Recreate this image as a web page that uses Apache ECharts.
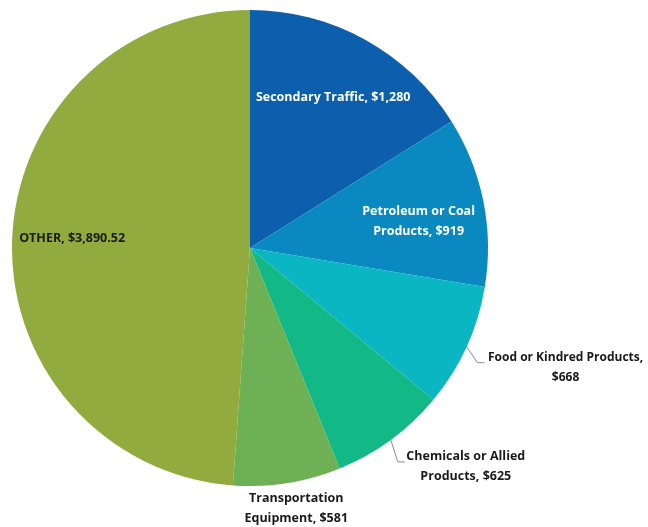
<!DOCTYPE html>
<html>
<head>
<meta charset="utf-8">
<script src="https://cdn.jsdelivr.net/npm/echarts@6/dist/echarts.min.js"></script>
<style>
  html, body { margin: 0; padding: 0; background: #ffffff; }
  #chart { width: 648px; height: 527px; }
</style>
</head>
<body>
<div id="chart"></div>
<script>
// Freight revenue by commodity group
const categories = [
  'Secondary Traffic',
  'Petroleum or Coal Products',
  'Food or Kindred Products',
  'Chemicals or Allied Products',
  'Transportation Equipment',
  'OTHER'
];
const values = [1280, 919, 668, 625, 581, 3890.52];
// label text split across lines
const labelLines = [
  ['Secondary Traffic, $1,280'],
  ['Petroleum or Coal', 'Products, $919'],
  ['Food or Kindred Products,', '$668'],
  ['Chemicals or Allied', 'Products, $625'],
  ['Transportation', 'Equipment, $581'],
  ['OTHER, $3,890.52']
];
const colors = ['#0C5FAD', '#0A89C1', '#0AB6C2', '#12B886', '#6DB154', '#92AB3E'];
// slices labelled inside the pie vs. outside with a leader line
const insideLabels = [0, 1, 5];
// slice whose label sits directly below the rim without a leader line
const belowLabel = 4;

const FONT = '"Open Sans", "Noto Sans", sans-serif';
const CENTER = [250, 248];
const R = 238;

function richText(lines) {
  return lines.map(l => '{t|' + l + '}').join('\n');
}

// mid angle of a slice, measured clockwise from 12 o'clock
function midAngle(idx) {
  const total = values.reduce((a, b) => a + b, 0);
  let before = 0;
  for (let i = 0; i < idx; i++) before += values[i];
  return (before + values[idx] / 2) / total * 2 * Math.PI;
}

// point on the rim at the middle of a slice
function rimPoint(idx) {
  const a = midAngle(idx);
  return [CENTER[0] + R * Math.sin(a), CENTER[1] - R * Math.cos(a)];
}

const outerBoxWidth = { 2: 160, 3: 120, 4: 110 };
const outerFontSize = { 2: 12, 3: 12.5, 4: 12.5 };
// leader-line bend relative to the rim point, per outside label
const leaderBend = { 2: [11, 16], 3: [7, 22] };

const outerData = categories.map((name, i) => {
  const inside = insideLabels.includes(i);
  const below = i === belowLabel;
  return {
    name: name,
    value: values[i],
    itemStyle: { color: colors[i] },
    label: inside ? { show: false } : {
      show: true,
      position: 'outside',
      formatter: richText(labelLines[i]),
      rich: {
        t: {
          fontFamily: FONT, fontWeight: 'bold', fontSize: outerFontSize[i], color: '#1a1a1a',
          width: outerBoxWidth[i], align: 'center', lineHeight: 20
        }
      }
    },
    labelLine: (inside || below) ? { show: false } : {
      show: true, length: 15, length2: 7,
      lineStyle: { color: '#8c8c8c', width: 1 }
    }
  };
});

// transparent ring used only to place the inside labels further out from the centre
const innerLabelData = categories.map((name, i) => {
  const inside = insideLabels.includes(i);
  return {
    name: name,
    value: values[i],
    itemStyle: { color: 'rgba(0,0,0,0)' },
    label: inside ? {
      show: true,
      position: 'inside',
      offset: i === 1 ? [0, 7] : (i === 5 ? [-6, -3] : [0, 0]),
      formatter: richText(labelLines[i]),
      rich: {
        t: {
          fontFamily: FONT, fontWeight: 'bold', fontSize: 12.5,
          color: i === 5 ? '#1a1a1a' : '#ffffff',
          align: 'center', lineHeight: 20
        }
      }
    } : { show: false },
    labelLine: { show: false }
  };
});

const chart = echarts.init(document.getElementById('chart'));
chart.setOption({
  animation: false,
  backgroundColor: '#ffffff',
  series: [
    {
      type: 'pie',
      center: CENTER,
      radius: [0, R],
      startAngle: 90,
      clockwise: true,
      avoidLabelOverlap: false,
      data: outerData,
      labelLayout: function (params) {
        const i = params.dataIndex;
        const rim = rimPoint(i);
        if (i === belowLabel) {
          return { x: rim[0] + 9, y: rim[1] + 5, align: 'center', verticalAlign: 'top' };
        }
        const bend = leaderBend[i];
        if (!bend) return {};
        const p1 = [rim[0] + bend[0], rim[1] + bend[1]];
        const p2 = [p1[0] + 7, p1[1]];
        return {
          x: p2[0] + 1,
          y: p2[1] + 5,
          align: 'left',
          verticalAlign: 'middle',
          labelLinePoints: [rim, p1, p2]
        };
      }
    },
    {
      type: 'pie',
      center: CENTER,
      radius: [R * 0.42, R],
      startAngle: 90,
      clockwise: true,
      silent: true,
      avoidLabelOverlap: false,
      data: innerLabelData
    }
  ]
});
</script>
</body>
</html>
